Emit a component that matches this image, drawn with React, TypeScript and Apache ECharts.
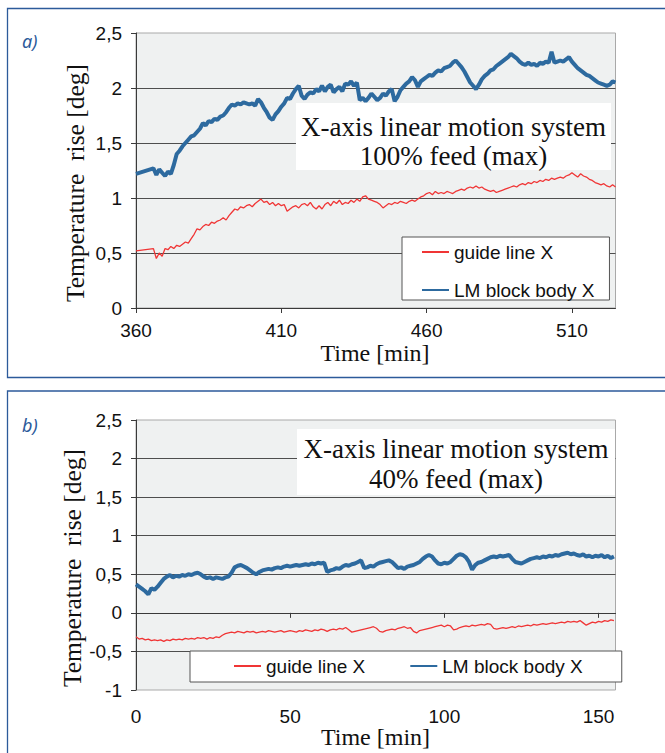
import { useEffect, useRef } from 'react';
import * as echarts from 'echarts';

// ---------- data ----------
const seriesNames = ['guide line X', 'LM block body X'];

// panel a: one straight segment 360 -> 366, then samples every minute 366..525
const aTimes = [360, ...Array.from({ length: 160 }, (_, i) => 366 + i)];
const aGuide = [
  0.52,
  0.54, 0.45, 0.50, 0.47, 0.54, 0.53, 0.56, 0.54, 0.57, 0.56,
  0.58, 0.60, 0.59, 0.63, 0.67, 0.72, 0.71, 0.74, 0.76, 0.75,
  0.78, 0.77, 0.79, 0.80, 0.82, 0.80, 0.84, 0.87, 0.90, 0.89,
  0.92, 0.91, 0.93, 0.94, 0.92, 0.95, 0.97, 0.99, 0.96, 0.97,
  0.94, 0.96, 0.93, 0.95, 0.93, 0.94, 0.88, 0.90, 0.92, 0.93,
  0.91, 0.94, 0.95, 0.93, 0.96, 0.92, 0.90, 0.93, 0.90, 0.94,
  0.96, 0.93, 0.97, 0.95, 0.98, 0.94, 0.96, 0.95, 0.98, 0.96,
  0.99, 0.97, 1.01, 1.02, 0.99, 0.98, 0.97, 0.96, 0.94, 0.91,
  0.93, 0.95, 0.94, 0.96, 0.95, 0.97, 0.96, 0.95, 0.97, 0.98,
  0.97, 0.99, 1.01, 1.02, 1.04, 1.05, 1.03, 1.06, 1.04, 1.05,
  1.04, 1.06, 1.05, 1.04, 1.06, 1.07, 1.08, 1.07, 1.09, 1.10,
  1.09, 1.11, 1.09, 1.10, 1.08, 1.07, 1.06, 1.07, 1.05, 1.06,
  1.07, 1.08, 1.09, 1.10, 1.11, 1.10, 1.12, 1.13, 1.12, 1.14,
  1.13, 1.15, 1.14, 1.16, 1.15, 1.17, 1.16, 1.18, 1.17, 1.18,
  1.19, 1.18, 1.20, 1.21, 1.23, 1.21, 1.19, 1.22, 1.20, 1.19,
  1.17, 1.16, 1.14, 1.13, 1.12, 1.13, 1.11, 1.10, 1.12, 1.10,
];
const aBlock = [
  1.22,
  1.27, 1.21, 1.26, 1.23, 1.20, 1.24, 1.22, 1.30, 1.40, 1.43,
  1.47, 1.50, 1.53, 1.56, 1.57, 1.60, 1.63, 1.68, 1.66, 1.70,
  1.69, 1.72, 1.71, 1.74, 1.75, 1.78, 1.82, 1.85, 1.84, 1.86,
  1.85, 1.87, 1.86, 1.85, 1.86, 1.84, 1.90, 1.87, 1.82, 1.78,
  1.73, 1.71, 1.76, 1.79, 1.83, 1.86, 1.91, 1.90, 1.95, 1.99,
  2.02, 1.93, 1.90, 1.94, 1.96, 1.95, 1.99, 1.97, 2.02, 1.97,
  2.01, 2.03, 1.96, 1.99, 2.01, 1.97, 2.04, 2.03, 2.06, 2.02,
  2.05, 1.89, 1.91, 1.88, 1.91, 1.95, 1.92, 1.89, 1.91, 1.95,
  1.93, 1.97, 1.99, 1.88, 1.92, 1.98, 2.01, 2.04, 2.06, 2.10,
  2.07, 2.01, 2.06, 2.08, 2.10, 2.12, 2.11, 2.14, 2.16, 2.15,
  2.18, 2.19, 2.20, 2.23, 2.25, 2.22, 2.19, 2.15, 2.10, 2.05,
  2.02, 1.99, 2.03, 2.08, 2.11, 2.13, 2.16, 2.17, 2.20, 2.22,
  2.24, 2.26, 2.28, 2.31, 2.29, 2.27, 2.24, 2.22, 2.21, 2.23,
  2.21, 2.22, 2.20, 2.23, 2.22, 2.24, 2.23, 2.33, 2.23, 2.24,
  2.25, 2.24, 2.26, 2.28, 2.24, 2.21, 2.18, 2.16, 2.14, 2.12,
  2.11, 2.09, 2.07, 2.05, 2.04, 2.03, 2.02, 2.03, 2.06, 2.05,
];

// panel b: samples every minute 0..155
const bTimes = Array.from({ length: 156 }, (_, i) => i);
const bGuide = [
  -0.31, -0.34, -0.33, -0.35, -0.34, -0.36, -0.35, -0.36, -0.35, -0.37,
  -0.35, -0.36, -0.34, -0.35, -0.34, -0.35, -0.33, -0.34, -0.33, -0.34,
  -0.32, -0.33, -0.32, -0.34, -0.32, -0.33, -0.31, -0.32, -0.29, -0.27,
  -0.26, -0.25, -0.26, -0.24, -0.25, -0.26, -0.24, -0.25, -0.24, -0.26,
  -0.25, -0.24, -0.25, -0.23, -0.24, -0.25, -0.24, -0.23, -0.25, -0.24,
  -0.23, -0.24, -0.25, -0.23, -0.24, -0.22, -0.23, -0.24, -0.22, -0.23,
  -0.21, -0.22, -0.24, -0.22, -0.21, -0.22, -0.20, -0.21, -0.19, -0.22,
  -0.25, -0.24, -0.23, -0.22, -0.21, -0.20, -0.19, -0.18, -0.20, -0.24,
  -0.25, -0.23, -0.22, -0.21, -0.22, -0.20, -0.19, -0.18, -0.20, -0.19,
  -0.24, -0.26, -0.23, -0.22, -0.21, -0.20, -0.19, -0.18, -0.17, -0.16,
  -0.18, -0.16, -0.17, -0.22, -0.21, -0.19, -0.18, -0.17, -0.18, -0.16,
  -0.17, -0.16, -0.15, -0.16, -0.14, -0.15, -0.20, -0.21, -0.20, -0.19,
  -0.20, -0.19, -0.18, -0.19, -0.17, -0.18, -0.17, -0.16, -0.17, -0.15,
  -0.16, -0.15, -0.14, -0.15, -0.14, -0.13, -0.14, -0.13, -0.12, -0.13,
  -0.11, -0.12, -0.11, -0.12, -0.10, -0.13, -0.16, -0.14, -0.12, -0.13,
  -0.11, -0.12, -0.10, -0.11, -0.09, -0.10,
];
const bBlock = [
  0.37, 0.34, 0.31, 0.28, 0.24, 0.32, 0.30, 0.34, 0.39, 0.44,
  0.47, 0.49, 0.46, 0.48, 0.47, 0.49, 0.48, 0.50, 0.49, 0.51,
  0.52, 0.50, 0.47, 0.45, 0.46, 0.44, 0.46, 0.45, 0.44, 0.46,
  0.47, 0.52, 0.59, 0.61, 0.62, 0.60, 0.58, 0.55, 0.52, 0.50,
  0.53, 0.55, 0.56, 0.57, 0.56, 0.58, 0.59, 0.58, 0.60, 0.61,
  0.60, 0.61, 0.62, 0.61, 0.62, 0.63, 0.62, 0.64, 0.63, 0.65,
  0.64, 0.65, 0.53, 0.55, 0.56, 0.58, 0.57, 0.60, 0.62, 0.61,
  0.63, 0.64, 0.66, 0.68, 0.58, 0.59, 0.61, 0.60, 0.63, 0.65,
  0.66, 0.67, 0.68, 0.66, 0.62, 0.58, 0.59, 0.57, 0.60, 0.61,
  0.62, 0.64, 0.66, 0.70, 0.73, 0.75, 0.73, 0.68, 0.64, 0.63,
  0.65, 0.64, 0.66, 0.70, 0.74, 0.76, 0.75, 0.72, 0.66, 0.56,
  0.62, 0.65, 0.66, 0.68, 0.70, 0.72, 0.73, 0.72, 0.74, 0.73,
  0.74, 0.75, 0.70, 0.66, 0.65, 0.64, 0.66, 0.68, 0.70, 0.71,
  0.72, 0.71, 0.73, 0.72, 0.74, 0.73, 0.75, 0.74, 0.76, 0.77,
  0.78, 0.76, 0.77, 0.75, 0.74, 0.76, 0.73, 0.74, 0.72, 0.74,
  0.73, 0.75, 0.72, 0.74, 0.71, 0.73,
];

const aXTicks = [360, 410, 460, 510];
const bXTicks = [0, 50, 100, 150];
const bXTicksOnZero = [50, 100, 150];
const panelLabels = ['a)', 'b)'];
const panelTitles = [
  'X-axis linear motion system\n100% feed (max)',
  'X-axis linear motion system\n40% feed (max)',
];
const yAxisName = 'Temperature  rise [deg]';
const xAxisName = 'Time [min]';

// ---------- styles ----------
const BLUE = '#2d6a9f';
const RED = '#f03535';
const FRAME = '#2c5a9a';
const AXIS = '#3a3a3a';
const GRIDLINE = '#4e4e4e';
const SANS = '"Liberation Sans", Arial, sans-serif';
const SERIF = '"Liberation Serif", "Times New Roman", serif';

const fmt = (v: number) => String(v).replace('.', ',');
const pairs = (t: number[], v: number[]) => t.map((x, i) => [x, v[i]]);

const tickLabel = { fontFamily: SANS, fontSize: 19, color: '#111' };

function yAxisFor(gridIndex: number, min: number) {
  return {
    gridIndex,
    type: 'value',
    min,
    max: 2.5,
    interval: 0.5,
    axisLine: { show: true, onZero: false, lineStyle: { color: AXIS, width: 1 } },
    axisTick: { show: true, length: 5, lineStyle: { color: AXIS } },
    axisLabel: { ...tickLabel, margin: 14, formatter: fmt },
    splitLine: { show: true, showMinLine: false, showMaxLine: false, lineStyle: { color: GRIDLINE, width: 1 } },
  };
}

function lineSeries(name: string, xi: number, yi: number, data: number[][]) {
  const isBlock = name === seriesNames[1];
  return {
    name,
    type: 'line',
    xAxisIndex: xi,
    yAxisIndex: yi,
    data,
    symbol: 'none',
    showSymbol: false,
    smooth: false,
    z: isBlock ? 3 : 2,
    lineStyle: { color: isBlock ? BLUE : RED, width: isBlock ? 4 : 1.3 },
    itemStyle: { color: isBlock ? BLUE : RED },
  };
}

const legendBase = {
  data: seriesNames,
  itemWidth: 27,
  itemHeight: 14,
  backgroundColor: '#fff',
  borderColor: '#555',
  borderWidth: 1,
  selectedMode: false,
  itemStyle: { opacity: 0, color: 'rgba(0,0,0,0)', borderWidth: 0 },
  textStyle: { fontFamily: SANS, fontSize: 19, color: '#111', lineHeight: 20 },
};

export default function App() {
  const ref = useRef<HTMLDivElement>(null);

  useEffect(() => {
    if (!ref.current) return;
    const chart = echarts.init(ref.current, null, { renderer: 'svg' });
    const option: any = {
      animation: false,
      backgroundColor: '#ffffff',
      grid: [
        { left: 136, top: 33, width: 479.5, height: 275, show: true, backgroundColor: '#eff1f1', borderColor: '#a9a9a9', borderWidth: 1, containLabel: false },
        { left: 136, top: 420, width: 479.5, height: 270, show: true, backgroundColor: '#eff1f1', borderColor: '#a9a9a9', borderWidth: 1, containLabel: false },
      ],
      xAxis: [
        {
          gridIndex: 0, type: 'value', min: 360, max: 525, position: 'bottom',
          axisLine: { show: true, lineStyle: { color: AXIS, width: 1 } },
          axisTick: { show: true, length: 5, customValues: aXTicks, lineStyle: { color: AXIS } },
          axisLabel: { ...tickLabel, margin: 13, customValues: aXTicks },
          splitLine: { show: false },
        },
        {
          gridIndex: 1, type: 'value', min: 0, max: 155.5, position: 'bottom',
          axisLine: { show: true, onZero: true, lineStyle: { color: AXIS, width: 1 } },
          axisTick: { show: true, length: 5, customValues: bXTicksOnZero, lineStyle: { color: AXIS } },
          axisLabel: { show: false },
          splitLine: { show: false },
        },
        {
          gridIndex: 1, type: 'value', min: 0, max: 155.5, position: 'bottom',
          axisLine: { show: false, onZero: false },
          axisTick: { show: false },
          axisLabel: { ...tickLabel, margin: 17, customValues: bXTicks },
          splitLine: { show: false },
        },
      ],
      yAxis: [yAxisFor(0, 0), yAxisFor(1, -1)],
      legend: [
        { ...legendBase, left: 402, top: 237, orient: 'vertical', itemGap: 18, padding: [5, 15, 0, 19] },
        { ...legendBase, left: 190, top: 651, orient: 'horizontal', itemGap: 44, padding: [5, 39, 6, 43] },
      ],
      series: [
        lineSeries(seriesNames[0], 0, 0, pairs(aTimes, aGuide)),
        lineSeries(seriesNames[1], 0, 0, pairs(aTimes, aBlock)),
        lineSeries(seriesNames[0], 1, 1, pairs(bTimes, bGuide)),
        lineSeries(seriesNames[1], 1, 1, pairs(bTimes, bBlock)),
      ],
      graphic: [
        // panel frames
        { type: 'rect', silent: true, z: 1, shape: { x: 7.5, y: 8.5, width: 700, height: 369 }, style: { fill: 'none', stroke: FRAME, lineWidth: 1.3 } },
        { type: 'rect', silent: true, z: 1, shape: { x: 7.5, y: 391, width: 700, height: 400 }, style: { fill: 'none', stroke: FRAME, lineWidth: 1.3 } },
        // panel labels
        { type: 'text', silent: true, z: 1, x: 22, y: 41, style: { text: panelLabels[0], font: 'italic 18px "Noto Sans", sans-serif', fill: FRAME, verticalAlign: 'middle' } },
        { type: 'text', silent: true, z: 1, x: 22, y: 425, style: { text: panelLabels[1], font: 'italic 18px "Noto Sans", sans-serif', fill: FRAME, verticalAlign: 'middle' } },
        // title boxes
        { type: 'rect', silent: true, z: 50, shape: { x: 296, y: 103, width: 315, height: 67 }, style: { fill: '#ffffff' } },
        { type: 'text', silent: true, z: 51, x: 453.5, y: 141, style: { text: panelTitles[0], font: `27px ${SERIF}`, lineHeight: 29, align: 'center', verticalAlign: 'middle', fill: '#111' } },
        { type: 'rect', silent: true, z: 50, shape: { x: 297, y: 429, width: 318, height: 66 }, style: { fill: '#ffffff' } },
        { type: 'text', silent: true, z: 51, x: 456, y: 464, style: { text: panelTitles[1], font: `27px ${SERIF}`, lineHeight: 30, align: 'center', verticalAlign: 'middle', fill: '#111' } },
        // axis names
        { type: 'text', silent: true, z: 5, x: 75, y: 183, rotation: Math.PI / 2, style: { text: yAxisName, font: `25.5px ${SERIF}`, align: 'center', verticalAlign: 'middle', fill: '#111' } },
        { type: 'text', silent: true, z: 5, x: 72, y: 568, rotation: Math.PI / 2, style: { text: yAxisName, font: `25.5px ${SERIF}`, align: 'center', verticalAlign: 'middle', fill: '#111' } },
        { type: 'text', silent: true, z: 5, x: 375, y: 353, style: { text: xAxisName, font: `24px ${SERIF}`, align: 'center', verticalAlign: 'middle', fill: '#111' } },
        { type: 'text', silent: true, z: 5, x: 375.5, y: 737, style: { text: xAxisName, font: `24px ${SERIF}`, align: 'center', verticalAlign: 'middle', fill: '#111' } },
      ],
    };
    chart.setOption(option);
    return () => chart.dispose();
  }, []);

  return (
    <div
      ref={ref}
      style={{ position: 'absolute', left: 0, top: 0, width: 665, height: 753 }}
    />
  );
}
